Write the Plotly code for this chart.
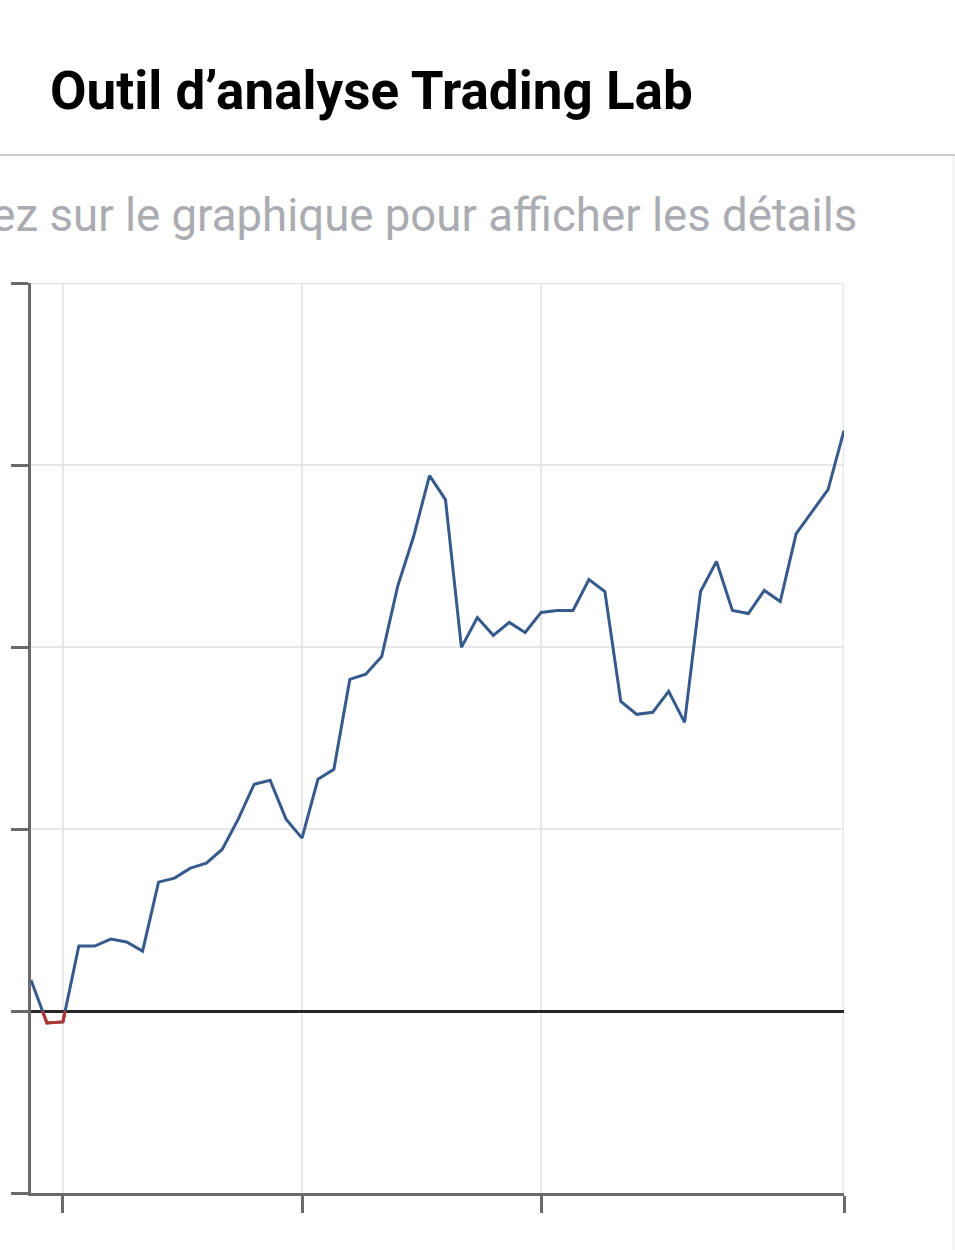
import plotly.graph_objects as go

# ---- data ----
weeks = list(range(52))
pnl = [170, -66, -60, 357, 357, 395, 379, 329, 708, 730, 785, 812, 889, 1054,
       1246, 1268, 1054, 950, 1273, 1328, 1822, 1850, 1948, 2333, 2607, 2942,
       2810, 1998, 2162, 2064, 2135, 2080, 2190, 2201, 2201, 2371, 2305, 1701,
       1630, 1641, 1756, 1586, 2305, 2470, 2201, 2184, 2311, 2250, 2623, 2744,
       2865, 3189]
y_ticks = [-1000, 0, 1000, 2000, 3000, 4000]
x_ticks = [2, 17, 32, 51]

title_text = "Outil d\u2019analyse Trading Lab"
hint_text = "Appuyez sur le graphique pour afficher les d\u00e9tails"

# ---- negative part of the line (red), split at the zero crossings ----
neg_x, neg_y = [], []
for i in range(len(pnl) - 1):
    a, b = pnl[i], pnl[i + 1]
    if a >= 0 and b >= 0:
        continue
    xa, xb = weeks[i], weeks[i + 1]
    if a < 0 and b < 0:
        seg = [(xa, a), (xb, b)]
    elif a < 0:
        t = a / (a - b)
        seg = [(xa, a), (xa + t * (xb - xa), 0)]
    else:
        t = a / (a - b)
        seg = [(xa + t * (xb - xa), 0), (xb, b)]
    if neg_x and neg_x[-1] is not None and abs(neg_x[-1] - seg[0][0]) < 1e-9 and neg_y[-1] == seg[0][1]:
        seg = seg[1:]
    elif neg_x:
        neg_x.append(None)
        neg_y.append(None)
    for px, py in seg:
        neg_x.append(px)
        neg_y.append(py)

# ---- geometry of the page ----
W, H = 955, 1250
L, R, T, B = 31, 844, 283, 1193
pw, ph = R - L, B - T


def px_to_paper_x(px):
    return (px - L) / pw


def px_to_paper_y(py):
    return (B - py) / ph


fig = go.Figure()
fig.add_trace(go.Scatter(x=weeks, y=pnl, mode="lines",
                         line=dict(color="#355a8b", width=3),
                         hoverinfo="skip", showlegend=False))
fig.add_trace(go.Scatter(x=neg_x, y=neg_y, mode="lines",
                         line=dict(color="#b3352f", width=3),
                         hoverinfo="skip", showlegend=False))

axis_col = "#6a6a6a"
grid_col = "#e7e7ea"

fig.update_layout(
    width=W, height=H,
    margin=dict(l=L, r=W - R, t=T, b=H - B, pad=0),
    paper_bgcolor="white", plot_bgcolor="white",
    showlegend=False,
    title=dict(text=title_text, xref="container", yref="container",
               x=50 / W, xanchor="left", y=1 - 90 / H, yanchor="middle",
               font=dict(family="Roboto", size=53, color="#000000", weight=700)),
    xaxis=dict(range=[0, 51], tickmode="array", tickvals=x_ticks,
               showticklabels=False, ticks="outside", ticklen=17, tickwidth=2.5,
               tickcolor=axis_col, showline=True, linecolor=axis_col, linewidth=2.5,
               showgrid=True, gridcolor=grid_col, gridwidth=2.4, zeroline=False,
               fixedrange=True, layer="above traces"),
    yaxis=dict(range=[-1000, 4000], tickmode="array", tickvals=y_ticks,
               showticklabels=False, ticks="outside", ticklen=17, tickwidth=2.5,
               tickcolor=axis_col, showline=True, linecolor=axis_col, linewidth=2.5,
               showgrid=True, gridcolor=grid_col, gridwidth=2.4,
               zeroline=True, zerolinecolor="#262626", zerolinewidth=2.8,
               fixedrange=True),
    annotations=[dict(text=hint_text, xref="paper", yref="paper",
                      x=px_to_paper_x(859), xanchor="right",
                      y=px_to_paper_y(215), yanchor="middle", showarrow=False,
                      font=dict(family="Roboto", size=45.6, color="#ababb2"))],
    shapes=[
        # grid lines at the edges of the ranges (top value, last week)
        dict(type="line", xref="x", yref="y", layer="below",
             x0=weeks[0], x1=weeks[-1], y0=y_ticks[-1], y1=y_ticks[-1],
             line=dict(color=grid_col, width=2.4)),
        dict(type="line", xref="x", yref="y", layer="below",
             x0=x_ticks[-1], x1=x_ticks[-1], y0=y_ticks[0], y1=y_ticks[-1],
             line=dict(color=grid_col, width=2.4)),
        dict(type="line", xref="paper", yref="paper",
             x0=px_to_paper_x(0), x1=px_to_paper_x(W),
             y0=px_to_paper_y(155), y1=px_to_paper_y(155),
             line=dict(color="#bdbdbd", width=1.5)),
        dict(type="line", xref="paper", yref="paper",
             x0=px_to_paper_x(953.5), x1=px_to_paper_x(953.5),
             y0=px_to_paper_y(156), y1=px_to_paper_y(H),
             line=dict(color="#f0f0f2", width=2)),
    ],
)

fig.write_html(
    "out.html",
    config={"displayModeBar": False},
    post_script="document.body.style.margin='0';document.body.style.overflow='hidden';",
)
